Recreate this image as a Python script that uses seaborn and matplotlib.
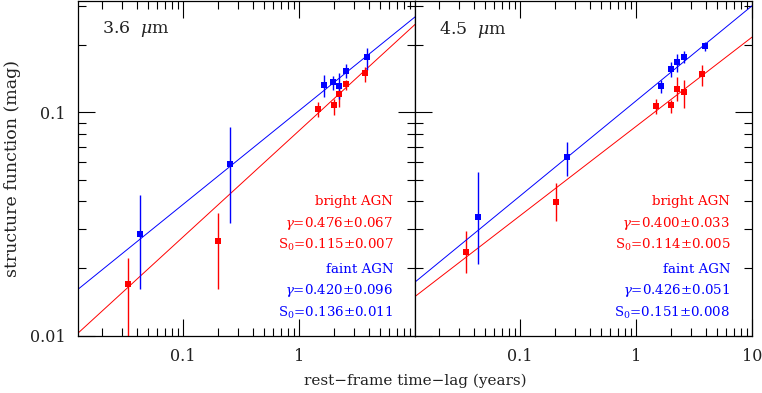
import numpy as np
import pandas as pd
import seaborn as sns
import matplotlib.pyplot as plt
from matplotlib.ticker import NullFormatter, FixedLocator, FixedFormatter

sns.set_theme(style="ticks")
plt.rcParams['font.family'] = ['DejaVu Serif']
plt.rcParams['mathtext.fontset'] = 'dejavuserif'

# 3.6 micron
lag36_bright = [0.034, 0.202, 1.45, 1.99, 2.21, 2.53, 3.68]
sf36_bright = [0.0170, 0.0266, 0.1038, 0.1074, 0.1205, 0.134, 0.1497]
lo36_bright = [0.0095, 0.0162, 0.0956, 0.097, 0.106, 0.126, 0.137]
hi36_bright = [0.0222, 0.0356, 0.1116, 0.115, 0.129, 0.140, 0.160]

lag36_faint = [0.0426, 0.254, 1.63, 1.98, 2.21, 2.54, 3.86]
sf36_faint = [0.0285, 0.0585, 0.132, 0.136, 0.131, 0.153, 0.177]
lo36_faint = [0.0162, 0.0319, 0.117, 0.126, 0.115, 0.143, 0.155]
hi36_faint = [0.0427, 0.0863, 0.147, 0.145, 0.150, 0.165, 0.195]

# 4.5 micron
lag45_bright = [0.0345, 0.203, 1.48, 2.02, 2.26, 2.58, 3.73]
sf45_bright = [0.0236, 0.0398, 0.1064, 0.1074, 0.1276, 0.1236, 0.1483]
lo45_bright = [0.0190, 0.0327, 0.0983, 0.0996, 0.1127, 0.1042, 0.1316]
hi45_bright = [0.0294, 0.0481, 0.1147, 0.1135, 0.1443, 0.1395, 0.163]

lag45_faint = [0.0435, 0.254, 1.65, 2.02, 2.26, 2.59, 3.93]
sf45_faint = [0.0339, 0.0633, 0.1315, 0.1556, 0.1675, 0.1774, 0.1986]
lo45_faint = [0.0209, 0.0521, 0.122, 0.144, 0.152, 0.167, 0.189]
hi45_faint = [0.054, 0.0738, 0.139, 0.168, 0.182, 0.189, 0.207]

# fit parameters (S = S0 * (lag / 2 yr)^gamma)
fit36 = {"bright": (0.476, 0.067, 0.115, 0.007), "faint": (0.420, 0.096, 0.136, 0.011)}
fit45 = {"bright": (0.400, 0.033, 0.114, 0.005), "faint": (0.426, 0.051, 0.151, 0.008)}
ref_lag = 2.0

xlim = (0.0125, 10)
ylim = (0.01, 0.315)
colors = {"bright": "#ff0000", "faint": "#0000ff"}

fig = plt.figure(figsize=(7.62, 3.93), dpi=100)
ax1 = fig.add_axes([0.1024, 0.1458, 0.4423, 0.8517])
ax2 = fig.add_axes([0.5446, 0.1458, 0.4423, 0.8517], sharey=ax1)

panels = [
    (ax1, "3.6  $\\mu$m", fit36,
     {"bright": (lag36_bright, sf36_bright, lo36_bright, hi36_bright),
      "faint": (lag36_faint, sf36_faint, lo36_faint, hi36_faint)}),
    (ax2, "4.5  $\\mu$m", fit45,
     {"bright": (lag45_bright, sf45_bright, lo45_bright, hi45_bright),
      "faint": (lag45_faint, sf45_faint, lo45_faint, hi45_faint)}),
]

for ax, title, fits, data in panels:
    ax.set_xscale("log")
    ax.set_yscale("log")
    for grp in ["bright", "faint"]:
        lag, sf, lo, hi = data[grp]
        c = colors[grp]
        gam, egam, s0, es0 = fits[grp]
        xx = np.geomspace(xlim[0], xlim[1], 60)
        line = pd.DataFrame({"x": xx, "y": s0 * (xx / ref_lag) ** gam})
        sns.lineplot(data=line, x="x", y="y", ax=ax, color=c, lw=0.7, legend=False)
        sf = np.array(sf)
        yerr = [sf - np.array(lo), np.array(hi) - sf]
        ax.errorbar(lag, sf, yerr=yerr, fmt="none", ecolor=c, elinewidth=1.0, capsize=0)
        pts = pd.DataFrame({"x": lag, "y": sf})
        sns.scatterplot(data=pts, x="x", y="y", ax=ax, color=c, marker="s", s=16,
                        linewidth=0, legend=False, zorder=5)

    ax.set_xlim(*xlim)
    ax.set_ylim(*ylim)
    ax.set_xlabel("")
    ax.set_ylabel("")
    ax.text(0.072, 0.915, title, transform=ax.transAxes, fontsize=12.5, color="#222222",
            ha="left", va="center")

    # annotation block
    xr = 0.935
    bg, ebg, sb, esb = fits["bright"]
    fg, efg, sfa, esf = fits["faint"]
    lines = [
        ("bright AGN", colors["bright"]),
        ("$\\gamma$=%.3f\u00b1%.3f" % (bg, ebg), colors["bright"]),
        ("S$_0$=%.3f\u00b1%.3f" % (sb, esb), colors["bright"]),
        ("faint AGN", colors["faint"]),
        ("$\\gamma$=%.3f\u00b1%.3f" % (fg, efg), colors["faint"]),
        ("S$_0$=%.3f\u00b1%.3f" % (sfa, esf), colors["faint"]),
    ]
    ys = [201.7, 223.3, 245.0, 269.5, 290.7, 312.7]
    for (txt, c), ypx in zip(lines, ys):
        ax.text(xr, (335.7 - ypx) / 334.7, txt, transform=ax.transAxes, color=c,
                fontsize=9.6, ha="right", va="center")

    ax.tick_params(which="both", direction="in", top=True, right=True, colors="black",
                   labelsize=11.5, pad=9, labelcolor="#222222")
    ax.tick_params(which="major", length=12, width=0.8)
    ax.tick_params(which="minor", length=6, width=0.8)
    ax.yaxis.set_minor_formatter(NullFormatter())
    ax.xaxis.set_minor_formatter(NullFormatter())
    for s in ax.spines.values():
        s.set_color("black")
        s.set_linewidth(0.9)

ax1.xaxis.set_major_locator(FixedLocator([0.1, 1]))
ax1.xaxis.set_major_formatter(FixedFormatter(["0.1", "1"]))
ax2.xaxis.set_major_locator(FixedLocator([0.1, 1, 10]))
ax2.xaxis.set_major_formatter(FixedFormatter(["0.1", "1", "10"]))
ax1.yaxis.set_major_locator(FixedLocator([0.01, 0.1]))
ax1.yaxis.set_major_formatter(FixedFormatter(["0.01", "0.1"]))
plt.setp(ax2.get_yticklabels(), visible=False)

ax1.set_ylabel("structure function (mag)", fontsize=12.5, color="#222222")
ax1.yaxis.set_label_coords(-0.17, 0.5)
fig.text(415 / 762, 1 - 381 / 393, "rest\u2212frame time\u2212lag (years)", fontsize=11,
         ha="center", va="center", color="#222222")

fig.savefig("out.png", dpi=100)
